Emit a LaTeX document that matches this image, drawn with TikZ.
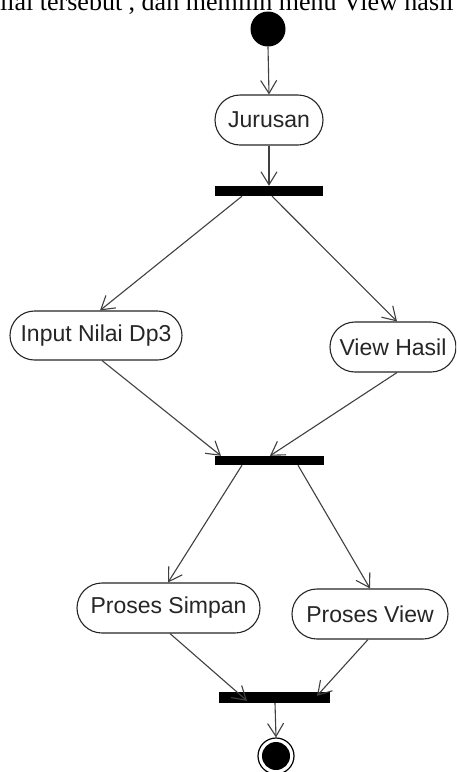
\documentclass[tikz,border=0pt]{standalone}
\usepackage{fontspec}
\setmainfont{Liberation Serif}
\newfontfamily\arialf{Liberation Sans}
\usetikzlibrary{arrows.meta,shapes.misc}
\begin{document}
\begin{tikzpicture}[x=1pt,y=-1pt,
  act/.style={draw=black!85, line width=1.1pt, rounded rectangle, inner sep=0pt,
    minimum height=50pt, font=\arialf\fontsize{23}{26}\selectfont, text=black!85},
  bar/.style={fill=black, draw=none, rectangle, inner sep=0pt},
  flow/.style={draw=black!75, line width=1.1pt,
    -{Straight Barb[length=13pt,width=16pt,line width=1.1pt]}}]
\useasboundingbox (0,0) rectangle (456,772);
\clip (0,0) rectangle (456,772);
\fill[white] (0,0) rectangle (456,772);
% clipped text line at top
\node[anchor=base west, inner sep=0pt, font=\fontsize{26}{30}\selectfont] (top) at (-13,10) {nilai tersebut , dan memilih menu View hasil};
% nodes
\node[circle, fill=black, inner sep=0pt, minimum size=35pt] (start) at (268,29) {};
\node[act, minimum width=108pt] (jur) at (269,120) {Jurusan};
\node[bar, minimum width=108pt, minimum height=10pt] (bar1) at (269,191) {};
\node[act, minimum width=172pt, minimum height=49pt] (inp) at (96,335.5) {Input Nilai Dp3};
\node[act, minimum width=126pt] (view) at (393,347) {View Hasil};
\node[bar, minimum width=109pt, minimum height=9pt] (bar2) at (269.5,460.5) {};
\node[act, minimum width=183pt] (ps) at (168.5,608) {Proses Simpan};
\node[act, minimum width=156pt] (pv) at (370,614) {Proses View};
\node[bar, minimum width=111pt, minimum height=11pt] (bar3) at (274.5,697.5) {};
\node[circle, draw=black, line width=1.2pt, fill=white, inner sep=0pt, minimum size=36pt] (end) at (276,756) {};
\node[circle, fill=black, inner sep=0pt, minimum size=28pt] (endin) at (end.center) {};
% connectors
\draw[flow] (start.south) -- (jur.north);
\draw[flow] (jur.south) -- (bar1.north);
\draw[flow] ([xshift=-27pt]bar1.south) -- ([xshift=4pt]inp.north);
\draw[flow] ([xshift=3pt]bar1.south) -- ([xshift=4pt]view.north);
\draw[flow] ([xshift=6pt]inp.south) -- ([xshift=-48.5pt]bar2.north);
\draw[flow] ([xshift=4pt]view.south) -- ([xshift=0.5pt]bar2.north);
\draw[flow] ([xshift=-27.5pt]bar2.south) -- ([xshift=-0.5pt]ps.north);
\draw[flow] ([xshift=28.5pt]bar2.south) -- (pv.north);
\draw[flow] ([xshift=1.5pt]ps.south) -- ([xshift=-27.5pt,yshift=-9pt]bar3.north);
\draw[flow] ([xshift=-2pt]pv.south) -- ([xshift=42.5pt,yshift=-4pt]bar3.north);
\draw[flow] ([xshift=0.5pt]bar3.south) -- (end.north);
\end{tikzpicture}
\end{document}
